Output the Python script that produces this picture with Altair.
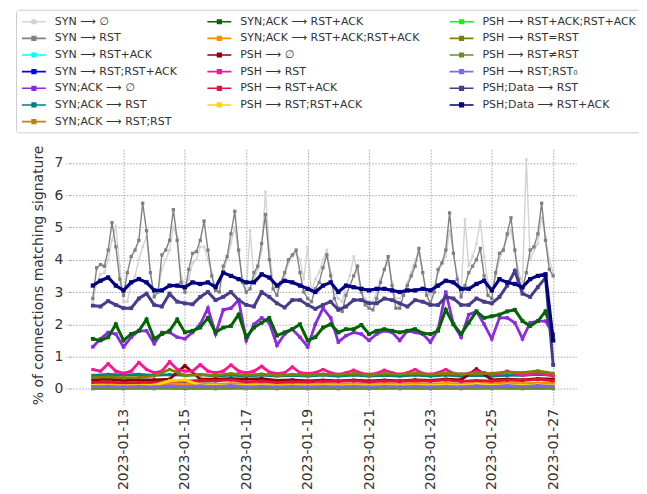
import altair as alt
import pandas as pd

START = "2023-01-12"

# ---- series names (plot order) ----
NAMES = [
    "SYN ⟶ ∅", "SYN ⟶ RST", "SYN ⟶ RST+ACK", "SYN ⟶ RST;RST+ACK",
    "SYN;ACK ⟶ ∅", "SYN;ACK ⟶ RST", "SYN;ACK ⟶ RST;RST",
    "SYN;ACK ⟶ RST+ACK", "SYN;ACK ⟶ RST+ACK;RST+ACK",
    "PSH ⟶ ∅", "PSH ⟶ RST", "PSH ⟶ RST+ACK", "PSH ⟶ RST;RST+ACK",
    "PSH ⟶ RST+ACK;RST+ACK", "PSH ⟶ RST=RST", "PSH ⟶ RST≠RST",
    "PSH ⟶ RST;RST₀", "PSH;Data ⟶ RST", "PSH;Data ⟶ RST+ACK",
]
COLORS = [
    "#d3d3d3", "#808080", "#00ffff", "#0000ff",
    "#8a2be2", "#008080", "#b8860b",
    "#006400", "#ff8c00",
    "#8b0000", "#ff1493", "#dc143c", "#ffd700",
    "#00ff00", "#808000", "#6b8e23",
    "#7b68ee", "#483d8b", "#000080",
]
LEGEND_COLS = [NAMES[0:7], NAMES[7:13], NAMES[13:19]]

# ---- values (3-hourly from 2023-01-12 00:00) ----
syn_empty = [
    2.7, 3.3, 3.55, 3.6, 4.0, 4.6, 5.05, 3.8,
    2.7, 2.7, 3.3, 3.5, 4.0, 4.4, 4.7, 3.6,
    2.9, 3.0, 3.7, 4.0, 4.3, 5.0, 4.7, 3.5,
    3.2, 3.4, 3.9, 4.0, 4.4, 4.4, 4.0, 3.6,
    3.1, 3.3, 3.6, 4.0, 4.5, 5.0, 4.2, 3.4,
    3.0, 4.9, 3.4, 3.7, 4.3, 6.1, 4.3, 3.3,
    3.1, 3.2, 3.5, 3.9, 4.1, 4.2, 4.0, 3.4,
    4.4, 3.0, 3.4, 3.6, 4.0, 4.3, 3.6, 3.0,
    2.8, 2.7, 3.2, 3.5, 4.1, 3.6, 3.0, 2.8,
    2.7, 2.7, 3.0, 3.4, 3.7, 3.9, 3.3, 2.8,
    2.8, 3.0, 3.3, 3.6, 4.0, 4.2, 3.6, 3.0,
    2.9, 3.2, 3.6, 3.9, 4.1, 4.9, 4.2, 3.5,
    3.0, 5.25, 3.8, 4.1, 4.5, 5.2, 4.1, 3.3,
    3.0, 3.5, 4.0, 4.3, 4.7, 4.9, 4.3, 3.6,
    3.3, 7.1, 4.0, 4.3, 4.5, 5.3, 4.7, 4.0,
    3.6,
]
syn_rst = [
    2.8, 3.75, 3.85, 3.8, 4.3, 5.15, 4.4, 3.4,
    2.9, 3.6, 4.1, 4.3, 4.6, 5.75, 4.9, 3.6,
    2.85, 3.0, 4.15, 4.3, 4.6, 5.55, 4.6, 3.3,
    3.0, 3.7, 4.2, 4.25, 4.6, 5.2, 4.3, 3.5,
    3.05, 3.0, 3.8, 4.1, 4.8, 5.5, 4.3, 3.3,
    3.0, 3.1, 3.6, 3.8, 4.5, 5.4, 4.0, 3.1,
    2.9, 3.3, 3.6, 4.0, 4.15, 4.3, 3.6, 3.0,
    2.8, 2.7, 3.1, 3.3, 3.75, 4.15, 3.5, 2.8,
    2.5, 2.4, 2.9, 3.2, 3.5, 3.8, 3.0, 2.6,
    2.5, 2.45, 2.8, 3.3, 3.7, 4.1, 3.2, 2.5,
    2.5, 2.9, 3.2, 3.5, 3.8, 4.35, 3.6, 2.9,
    2.65, 3.0, 3.7, 3.9, 4.3, 5.45, 4.2, 3.4,
    2.85, 3.2, 3.6, 3.8, 4.0, 4.35, 3.5, 2.9,
    2.8, 3.6, 4.2, 4.3, 4.8, 5.3, 4.3, 3.4,
    3.1, 3.6, 4.3, 4.4, 4.8, 5.75, 4.6, 3.7,
    3.5,
]

# ---- values (6-hourly) ----
synack_empty = [
    1.3, 1.55, 1.75, 1.7,
    1.3, 1.6, 1.8, 1.8,
    1.4, 1.75, 1.75, 1.6,
    1.55, 1.75, 2.0, 2.5,
    1.7, 2.45, 2.5, 2.75,
    1.5, 2.0, 2.2, 2.05,
    1.35, 1.7, 1.85, 1.6,
    1.3, 2.0, 2.5, 2.2,
    1.45, 1.65, 1.75, 1.7,
    1.5, 1.7, 1.8, 1.75,
    1.5, 1.8, 1.75, 1.7,
    1.45, 1.85, 3.0, 2.0,
    1.6, 2.3, 2.4, 2.0,
    1.55, 2.2, 2.2, 2.05,
    1.55, 2.05, 2.1, 2.1,
    1.7,
]
synack_rstack = [
    1.55, 1.5, 1.6, 2.0,
    1.5, 1.7, 1.8, 2.15,
    1.55, 1.7, 1.8, 2.15,
    1.75, 1.8, 1.9, 2.2,
    1.75, 1.9, 1.95, 2.3,
    1.6, 1.9, 2.05, 2.2,
    1.65, 1.75, 1.85, 2.0,
    1.5, 1.6, 1.9, 2.0,
    1.75, 1.85, 1.85, 1.98,
    1.7, 1.8, 1.85, 1.8,
    1.75, 1.8, 1.85, 1.72,
    1.7, 1.8, 2.45, 2.0,
    1.7, 2.05, 2.4, 2.2,
    2.25, 2.3, 2.4, 2.45,
    2.1, 1.95, 2.1, 2.4,
    1.65,
]
psh_rst = [
    0.6, 0.55, 0.78, 0.55,
    0.48, 0.55, 0.82, 0.6,
    0.5, 0.55, 0.84, 0.6,
    0.55, 0.55, 0.75, 0.55,
    0.5, 0.55, 0.74, 0.55,
    0.5, 0.55, 0.7, 0.52,
    0.47, 0.5, 0.68, 0.5,
    0.47, 0.5, 0.6, 0.5,
    0.45, 0.5, 0.58, 0.48,
    0.45, 0.48, 0.58, 0.5,
    0.45, 0.5, 0.6, 0.48,
    0.45, 0.5, 0.6, 0.48,
    0.45, 0.48, 0.55, 0.5,
    0.45, 0.48, 0.55, 0.48,
    0.42, 0.45, 0.5, 0.45,
    0.4,
]
pshdata_rst = [
    2.58, 2.55, 2.72, 2.6,
    2.5, 2.5, 2.8, 2.95,
    2.6, 2.55, 2.95, 2.7,
    2.65, 2.62, 2.85, 3.0,
    2.75, 2.85, 3.0, 2.75,
    2.6, 2.55, 3.0, 2.85,
    2.65, 2.52, 2.75, 2.75,
    2.6, 2.48, 2.6, 2.7,
    2.45, 2.55, 2.75, 2.75,
    2.65, 2.65, 2.8, 2.75,
    2.65, 2.55, 2.75, 2.7,
    2.6, 2.6, 2.85, 2.8,
    2.6, 2.6, 2.8, 2.7,
    2.65, 2.85, 3.2, 3.65,
    2.95, 2.85, 3.15, 3.45,
    0.74,
]
pshdata_rstack = [
    3.2, 3.35, 3.45, 3.2,
    3.05, 3.3, 3.4, 3.3,
    3.05, 3.05, 3.2, 3.2,
    3.15, 3.3, 3.25, 3.3,
    3.15, 3.6, 3.5, 3.4,
    3.3, 3.3, 3.55, 3.45,
    3.2, 3.35, 3.3, 3.2,
    3.1, 3.0, 3.2, 3.3,
    3.0, 3.2, 3.15, 3.1,
    3.05, 3.1, 3.1, 3.05,
    3.0, 3.05, 3.05, 3.1,
    3.05, 3.2, 3.35, 3.3,
    3.1, 3.1, 3.25, 3.35,
    3.05, 3.4, 3.3, 3.25,
    3.15, 3.4, 3.5, 3.55,
    1.5,
]

# ---- values (12-hourly) ----
psh_rst_eq = [0.36, 0.37, 0.34, 0.36, 0.4, 0.6, 0.42, 0.44, 0.42, 0.47, 0.43, 0.46,
              0.42, 0.45, 0.43, 0.46, 0.44, 0.47, 0.43, 0.47, 0.45, 0.48, 0.45, 0.48,
              0.46, 0.47, 0.48, 0.52, 0.5, 0.56, 0.48]
psh_rstack = [0.2, 0.22, 0.18, 0.2, 0.2, 0.24, 0.24, 0.26, 0.25, 0.28, 0.22, 0.24,
              0.2, 0.22, 0.22, 0.24, 0.23, 0.25, 0.22, 0.25, 0.23, 0.26, 0.24, 0.28,
              0.23, 0.26, 0.24, 0.27, 0.26, 0.3, 0.25]
psh_empty = [0.28, 0.3, 0.26, 0.28, 0.28, 0.3, 0.72, 0.3, 0.3, 0.32, 0.3, 0.32,
             0.26, 0.28, 0.25, 0.27, 0.25, 0.27, 0.25, 0.27, 0.25, 0.28, 0.26, 0.3,
             0.28, 0.62, 0.28, 0.3, 0.28, 0.32, 0.3]
synack_rst = [0.42, 0.45, 0.43, 0.45, 0.42, 0.44, 0.42, 0.44, 0.4, 0.43, 0.4, 0.43,
              0.4, 0.42, 0.4, 0.43, 0.4, 0.43, 0.4, 0.42, 0.4, 0.43, 0.4, 0.43,
              0.4, 0.42, 0.4, 0.42, 0.42, 0.45, 0.42]
syn_rstack = [0.1, 0.11, 0.1, 0.11, 0.12, 0.15, 0.18, 0.17, 0.15, 0.13, 0.12, 0.12,
              0.11, 0.12, 0.11, 0.12, 0.1, 0.12, 0.1, 0.11, 0.1, 0.12, 0.1, 0.12,
              0.11, 0.12, 0.11, 0.13, 0.12, 0.13, 0.12]
synack_rstack2 = [0.14, 0.15, 0.13, 0.15, 0.14, 0.17, 0.15, 0.16, 0.14, 0.16, 0.16, 0.18,
                  0.15, 0.17, 0.14, 0.16, 0.14, 0.15, 0.14, 0.16, 0.15, 0.17, 0.15, 0.17,
                  0.15, 0.18, 0.16, 0.18, 0.16, 0.18, 0.17]
psh_rst_rstack = [0.1, 0.1, 0.09, 0.1, 0.12, 0.25, 0.28, 0.12, 0.1, 0.1, 0.1, 0.1,
                  0.09, 0.1, 0.09, 0.1, 0.09, 0.1, 0.09, 0.1, 0.09, 0.1, 0.1, 0.12,
                  0.1, 0.15, 0.1, 0.12, 0.1, 0.12, 0.1]
psh_rst_rst0 = [0.07, 0.08, 0.06, 0.08, 0.06, 0.09, 0.07, 0.09, 0.07, 0.1, 0.06, 0.08,
                0.06, 0.08, 0.06, 0.08, 0.06, 0.08, 0.06, 0.08, 0.06, 0.08, 0.06, 0.08,
                0.06, 0.09, 0.07, 0.1, 0.07, 0.1, 0.08]

# ---- values (daily) ----
psh_rst_ne = [0.02, 0.02, 0.03, 0.02, 0.02, 0.03, 0.02, 0.02, 0.02, 0.02, 0.03, 0.02,
              0.02, 0.03, 0.02, 0.02]
psh_rstack2 = [0.01, 0.01, 0.01, 0.01, 0.01, 0.01, 0.01, 0.01, 0.01, 0.01, 0.01, 0.01,
               0.01, 0.01, 0.01, 0.01]
syn_rst_rstack = [0.01, 0.01, 0.01, 0.01, 0.01, 0.01, 0.01, 0.01, 0.01, 0.01, 0.01, 0.01,
                  0.01, 0.01, 0.01, 0.01]
synack_rst_rst = [0.01, 0.01, 0.01, 0.01, 0.01, 0.01, 0.01, 0.01, 0.01, 0.01, 0.01, 0.01,
                  0.01, 0.01, 0.01, 0.01]

SERIES_DATA = {
    NAMES[0]: (syn_empty, 3), NAMES[1]: (syn_rst, 3), NAMES[2]: (syn_rstack, 12),
    NAMES[3]: (syn_rst_rstack, 24), NAMES[4]: (synack_empty, 6),
    NAMES[5]: (synack_rst, 12), NAMES[6]: (synack_rst_rst, 24),
    NAMES[7]: (synack_rstack, 6), NAMES[8]: (synack_rstack2, 12),
    NAMES[9]: (psh_empty, 12), NAMES[10]: (psh_rst, 6), NAMES[11]: (psh_rstack, 12),
    NAMES[12]: (psh_rst_rstack, 12), NAMES[13]: (psh_rstack2, 24),
    NAMES[14]: (psh_rst_eq, 12), NAMES[15]: (psh_rst_ne, 24),
    NAMES[16]: (psh_rst_rst0, 12), NAMES[17]: (pshdata_rst, 6),
    NAMES[18]: (pshdata_rstack, 6),
}

# styles (per series)
LINE_W = {n: 2.8 for n in NAMES}
LINE_W.update({NAMES[0]: 1.4, NAMES[1]: 1.4, NAMES[18]: 3.2, NAMES[17]: 3.0,
               NAMES[7]: 3.0, NAMES[4]: 2.8})
PT_SIZE = {n: 10 for n in NAMES}
PT_SIZE.update({NAMES[0]: 7, NAMES[1]: 11, NAMES[18]: 18, NAMES[17]: 15,
                NAMES[7]: 15, NAMES[4]: 12})

# legend order: matplotlib fills columns; Vega fills rows
legend_order, legend_colors = [], []
for r in range(7):
    for c in range(3):
        if r < len(LEGEND_COLS[c]):
            n = LEGEND_COLS[c][r]
            legend_order.append(n)
            legend_colors.append(COLORS[NAMES.index(n)])

color = alt.Color(
    "s:N",
    scale=alt.Scale(domain=legend_order, range=legend_colors),
    legend=alt.Legend(
        title=None, orient="none", legendX=-54, legendY=-140, columns=3,
        direction="horizontal",
        symbolType="M-1,0H3M0.7,-0.3H1.3V0.3H0.7Z", symbolSize=144,
        symbolStrokeWidth=1.6, labelFont="DejaVu Sans", labelFontSize=11,
        labelColor="#333333", labelLimit=400, labelOffset=20,
        rowPadding=4.7, columnPadding=26, padding=5,
        strokeColor="#cccccc", fillColor="white", cornerRadius=3,
    ),
)

x = alt.X(
    "t:T",
    scale=alt.Scale(type="utc", nice=False, domain=[
        alt.DateTime(year=2023, month=1, date=11, hours=6, utc=True),
        alt.DateTime(year=2023, month=1, date=27, hours=18, utc=True)]),
    axis=alt.Axis(
        title=None,
        values=[alt.DateTime(year=2023, month=1, date=d, utc=True) for d in range(13, 28, 2)],
        labelExpr="utcFormat(datum.value, '%Y-%m-%d')",
        labelAngle=270, labelAlign="right", labelBaseline="middle",
        labelFontSize=14, labelPadding=4, tickSize=4,
    ),
)
y = alt.Y(
    "v:Q",
    scale=alt.Scale(domain=[-0.36, 7.42], nice=False, zero=False),
    axis=alt.Axis(
        title="% of connections matching signature", values=list(range(0, 8)),
        labelFontSize=14, titleFontSize=14, titleFontWeight="normal",
        tickSize=4, labelPadding=3, titlePadding=8,
    ),
)

layers = []
for n in NAMES:
    vals, step = SERIES_DATA[n]
    t = pd.date_range(START, periods=len(vals), freq=f"{step}h").strftime("%Y-%m-%dT%H:%M:%SZ")
    df = pd.DataFrame({"t": list(t), "v": vals, "s": n})
    layers.append(
        alt.Chart(df).mark_line(
            strokeWidth=LINE_W[n],
            point=alt.OverlayMarkDef(filled=True, size=PT_SIZE[n], shape="square"),
        ).encode(x=x, y=y, color=color)
    )

chart = alt.layer(*layers).properties(
    width=508, height=252,
    autosize=alt.AutoSizeParams(type="none"),
    padding={"left": 62, "top": 141, "right": 63, "bottom": 92},
).configure_view(stroke=None).configure_axis(
    domain=False, grid=True, gridColor="#999999", gridDash=[1.5, 1.5], gridWidth=0.9,
    tickColor="#999999", tickDash=[1.5, 1.5], labelColor="#333333", titleColor="#333333",
    labelFont="DejaVu Sans", titleFont="DejaVu Sans",
)

chart.save("out.html", embed_options={"renderer": "svg", "actions": False})
